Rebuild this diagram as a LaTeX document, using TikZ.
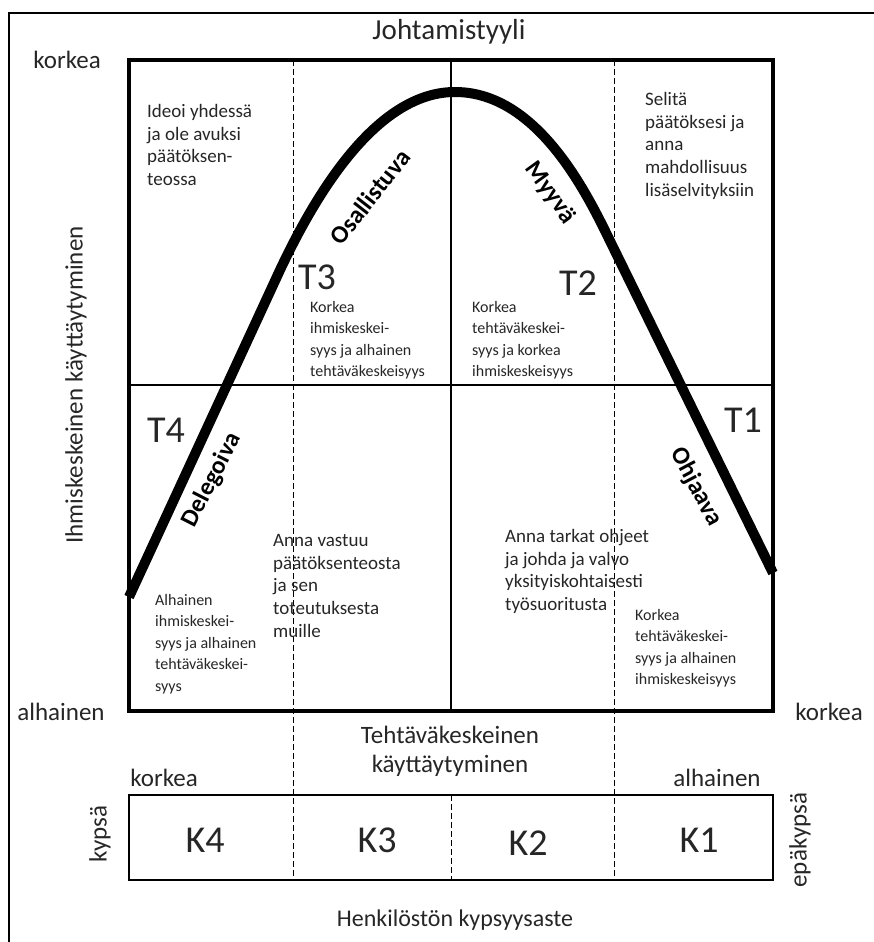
\documentclass[tikz,border=0pt]{standalone}
\usepackage{fontspec}
\setmainfont{Carlito}
\begin{document}
\begin{tikzpicture}[x=1pt,y=-1pt,
  frame/.style={line width=1.6pt},
  boxline/.style={line width=3.6pt},
  midline/.style={line width=1.5pt},
  dashline/.style={line width=0.9pt, dash pattern=on 6pt off 3pt},
  curveline/.style={line width=10pt, line join=round},
  lbl/.style={text=black!85, inner sep=0pt},
  txt/.style={lbl, anchor=north west, align=left},
  big/.style={lbl, font=\fontsize{38}{40}\selectfont},
  axis/.style={lbl, font=\fontsize{25}{28}\selectfont},
  curvelab/.style={lbl, text=black, font=\fontsize{25}{28}\selectfont\bfseries},
  mid/.style={font=\fontsize{19}{22.8}\selectfont},
  small/.style={font=\fontsize{16}{21.5}\selectfont}
]
\useasboundingbox (0,0) rectangle (874,942);
% outer frame
\coordinate (F1) at (9,942);
\coordinate (F2) at (9,13);
\coordinate (F3) at (874,13);
\draw[frame] (F1) -- (F2) -- (F3);
% main box
\coordinate (A) at (129,60);
\coordinate (B) at (773,711);
\coordinate (L) at (129,385);
\coordinate (R) at (773,385);
\coordinate (Mt) at (451,60);
\coordinate (Mb) at (451,711);
\draw[midline] (L) -- (R);
\draw[midline] (Mt) -- (Mb);
% dashed verticals
\coordinate (D1t) at (293,60);
\coordinate (D1b) at (293,880);
\coordinate (D2t) at (614,60);
\coordinate (D2b) at (614,880);
\coordinate (D3t) at (451,795);
\coordinate (D3b) at (451,880);
\draw[dashline] (D1t) -- (D1b);
\draw[dashline] (D2t) -- (D2b);
\draw[dashline] (D3t) -- (D3b);
\draw[boxline] (A) rectangle (B);
% bottom box
\coordinate (C) at (129,795);
\coordinate (E) at (773,880);
\draw[boxline, line width=2.8pt] (C) rectangle (E);
% curve
\coordinate (c0) at (129,597);
\coordinate (p1) at (280,270);
\coordinate (c1) at (455,92);
\coordinate (p2) at (612,245);
\coordinate (c2) at (773,573);
\draw[curveline] (c0) -- (p1) .. controls (320,185) and (380,92) .. (c1)
  .. controls (540,92) and (590,200) .. (p2) -- (c2);
% title and axis labels
\node[axis, font=\fontsize{29}{32}\selectfont] (title) at (449,32) {Johtamistyyli};
\node[axis] (ktop) at (67,60) {korkea};
\node[axis] (aleft) at (61,712) {alhainen};
\node[axis] (kright) at (829,712) {korkea};
\node[axis, rotate=90] (ylab) at (76,385) {Ihmiskeskeinen käyttäytyminen};
\node[axis] (xlab1) at (450,735) {Tehtäväkeskeinen};
\node[axis] (xlab2) at (450,766) {käyttäytyminen};
\node[axis] (kbl) at (164,778) {korkea};
\node[axis] (abr) at (717,778) {alhainen};
\node[axis, rotate=90] (kyp) at (100,834) {kypsä};
\node[axis, rotate=90] (epa) at (800,840) {epäkypsä};
\node[axis, font=\fontsize{24}{28}\selectfont] (hk) at (455,920) {Henkilöstön kypsyysaste};
% K labels
\node[big] (K4) at (205,840) {K4};
\node[big] (K3) at (377,840) {K3};
\node[big] (K2) at (528,843) {K2};
\node[big] (K1) at (699,840) {K1};
% T labels
\node[big] (T3) at (317,277) {T3};
\node[big] (T2) at (578,283) {T2};
\node[big] (T4) at (166,430) {T4};
\node[big] (T1) at (743,420) {T1};
% curve labels
\node[curvelab, rotate=52] (osa) at (370,197) {Osallistuva};
\node[curvelab, rotate=-54] (myy) at (550,193) {Myyvä};
\node[curvelab, rotate=63] (del) at (212,480) {Delegoiva};
\node[curvelab, rotate=-62] (ohj) at (696,487) {Ohjaava};
% texts
\node[txt, mid] (ideoi) at (147,104) {Ideoi yhdessä\\ja ole avuksi\\päätöksen-\\teossa};
\node[txt, mid] (selita) at (645,92) {Selitä\\päätöksesi ja\\anna\\mahdollisuus\\lisäselvityksiin};
\node[txt, small] (t3t) at (310,301) {Korkea\\ihmiskeskei-\\syys ja alhainen\\tehtäväkeskeisyys};
\node[txt, small] (t2t) at (472,301) {Korkea\\tehtäväkeskei-\\syys ja korkea\\ihmiskeskeisyys};
\node[txt, mid] (anna1) at (273,534) {Anna vastuu\\päätöksenteosta\\ja sen\\toteutuksesta\\muille};
\node[txt, mid] (anna2) at (505,529) {Anna tarkat ohjeet\\ja johda ja valvo\\yksityiskohtaisesti\\työsuoritusta};
\node[txt, small] (t4t) at (155,594) {Alhainen\\ihmiskeskei-\\syys ja alhainen\\tehtäväkeskei-\\syys};
\node[txt, small] (t1t) at (635,609) {Korkea\\tehtäväkeskei-\\syys ja alhainen\\ihmiskeskeisyys};
\end{tikzpicture}
\end{document}
